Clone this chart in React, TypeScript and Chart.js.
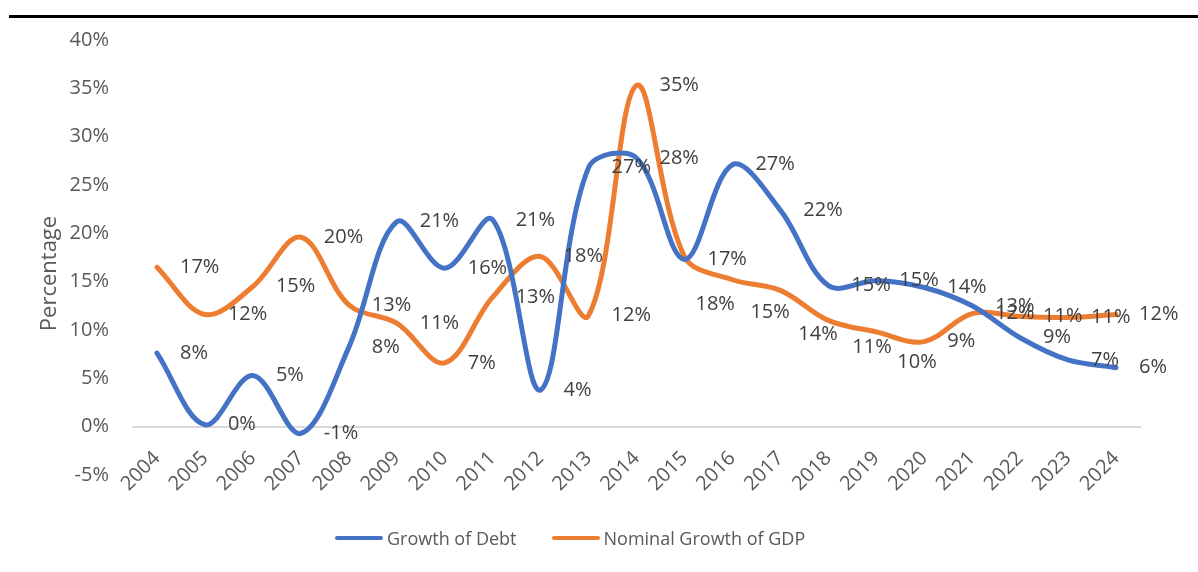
import React, { useEffect, useRef } from "react";
import { Chart, registerables } from "chart.js";

Chart.register(...registerables);

const years = [
  "2004", "2005", "2006", "2007", "2008", "2009", "2010", "2011", "2012", "2013", "2014",
  "2015", "2016", "2017", "2018", "2019", "2020", "2021", "2022", "2023", "2024",
];
const debtGrowth = [
  7.6, 0.2, 5.3, -0.7, 8.2, 21.2, 16.4, 21.4, 3.8, 26.8, 27.8,
  17.3, 27.1, 22.4, 14.6, 15.1, 14.4, 12.5, 9.2, 6.9, 6.1,
];
const gdpGrowth = [
  16.5, 11.6, 14.5, 19.6, 12.6, 10.7, 6.6, 13.4, 17.6, 11.5, 35.3,
  17.6, 15.2, 14.1, 11.0, 9.8, 8.8, 11.7, 11.4, 11.3, 11.6,
];
const seriesNames = ["Growth of Debt", "Nominal Growth of GDP"];
const yTitle = "Percentage";

const BLUE = "#4472C4";
const ORANGE = "#ED7D31";
const FONT = "'Open Sans', 'Noto Sans', sans-serif";

// manual label nudges (dataset index, point index, dx, dy) for labels moved in the original
const labelNudges = [
  { d: 1, i: 11, dx: -12, dy: 48 },
  { d: 1, i: 12, dx: -5, dy: 33 },
  { d: 1, i: 13, dx: -5, dy: 44 },
  { d: 1, i: 14, dx: 1, dy: 27 },
  { d: 1, i: 15, dx: -2, dy: 30 },
];

const dataLabelPlugin = {
  id: "dataLabels",
  afterDatasetsDraw(chart: any) {
    const ctx = chart.ctx;
    ctx.save();
    ctx.font = `20px ${FONT}`;
    ctx.fillStyle = "#404040";
    ctx.textAlign = "left";
    ctx.textBaseline = "middle";
    chart.data.datasets.forEach((ds: any, d: number) => {
      const meta = chart.getDatasetMeta(d);
      meta.data.forEach((pt: any, i: number) => {
        const v = ds.data[i];
        const n = labelNudges.find((o) => o.d === d && o.i === i);
        const dx = n ? n.dx : 0;
        const dy = n ? n.dy : 0;
        ctx.fillText(`${Math.round(v)}%`, pt.x + 23 + dx, pt.y + dy);
      });
    });
    ctx.restore();
  },
};

const yTitlePlugin = {
  id: "yTitle",
  afterDraw(chart: any) {
    const { ctx, chartArea } = chart;
    ctx.save();
    ctx.font = `22px ${FONT}`;
    ctx.fillStyle = "#595959";
    ctx.textAlign = "center";
    ctx.textBaseline = "middle";
    ctx.translate(chartArea.left - 83, (chartArea.top + chartArea.bottom) / 2 + 16);
    ctx.rotate(-Math.PI / 2);
    ctx.fillText(yTitle, 0, 0);
    ctx.restore();
  },
};

export default function App() {
  const ref = useRef<HTMLCanvasElement | null>(null);

  useEffect(() => {
    if (!ref.current) return;
    const chart = new Chart(ref.current, {
      type: "line",
      data: {
        labels: years,
        datasets: [
          {
            label: seriesNames[0],
            data: debtGrowth,
            borderColor: BLUE,
            backgroundColor: BLUE,
            borderWidth: 5,
            pointRadius: 0,
            tension: 0.35,
            borderCapStyle: "round",
            borderJoinStyle: "round",
            fill: false,
          },
          {
            label: seriesNames[1],
            data: gdpGrowth,
            borderColor: ORANGE,
            backgroundColor: ORANGE,
            borderWidth: 5,
            pointRadius: 0,
            tension: 0.35,
            borderCapStyle: "round",
            borderJoinStyle: "round",
            fill: false,
          },
        ],
      },
      options: {
        responsive: false,
        animation: false,
        layout: { padding: { left: 0, right: 58, top: 40, bottom: 97 } },
        plugins: {
          legend: { display: false },
          tooltip: { enabled: false },
          title: { display: false },
        },
        scales: {
          x: {
            type: "category",
            position: { y: 0 } as any,
            offset: true,
            grid: { display: false, drawTicks: false },
            border: { display: true, color: "#D9D9D9", width: 2 },
            ticks: {
              autoSkip: false,
              minRotation: 45,
              maxRotation: 45,
              padding: 20,
              color: "#595959",
              font: { family: FONT, size: 20 },
            },
          },
          y: {
            min: -5,
            max: 40,
            grid: { display: false, drawTicks: false },
            border: { display: false },
            afterFit: (s: any) => {
              s.width = 133;
            },
            ticks: {
              stepSize: 5,
              padding: 24,
              color: "#595959",
              font: { family: FONT, size: 20 },
              callback: (v: any) => `${v}%`,
            },
          },
        },
      },
      plugins: [dataLabelPlugin, yTitlePlugin],
    });
    return () => chart.destroy();
  }, []);

  const legendText: React.CSSProperties = {
    fontFamily: FONT,
    fontSize: 18,
    color: "#595959",
    lineHeight: "24px",
    whiteSpace: "nowrap",
  };
  const sample = (c: string): React.CSSProperties => ({
    width: 48,
    height: 4.5,
    borderRadius: 3,
    background: c,
    marginRight: 4,
  });

  return (
    <div style={{ position: "absolute", left: 0, top: 0, width: 1198, height: 572, background: "#fff" }}>
      <div style={{ position: "absolute", left: 9, top: 15, width: 1189, height: 3, background: "#000" }} />
      <canvas ref={ref} width={1198} height={572} style={{ position: "absolute", left: 0, top: 0 }} />
      <div
        style={{
          position: "absolute",
          left: 335,
          top: 526,
          display: "flex",
          alignItems: "center",
        }}
      >
        <div style={sample(BLUE)} />
        <span style={legendText}>{seriesNames[0]}</span>
        <div style={{ width: 35 }} />
        <div style={sample(ORANGE)} />
        <span style={legendText}>{seriesNames[1]}</span>
      </div>
    </div>
  );
}
